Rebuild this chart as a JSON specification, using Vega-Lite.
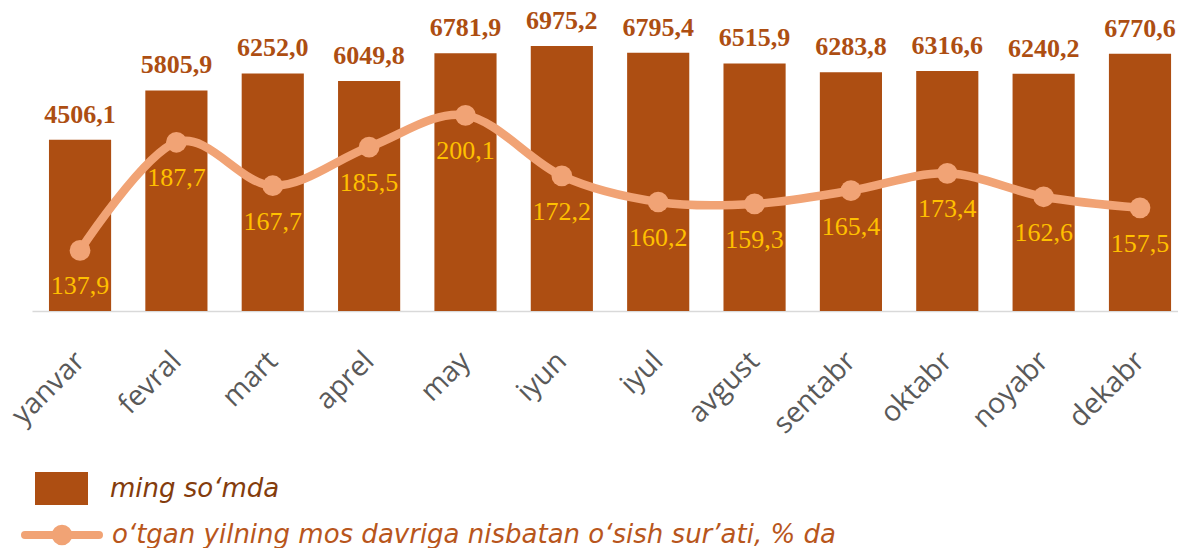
{
  "$schema": "https://vega.github.io/schema/vega-lite/v6.json",
  "autosize": {"type": "none"},
  "padding": {"left": 32, "top": 7, "right": 0, "bottom": 237},
  "width": 1146,
  "height": 304,
  "config": {
    "view": {"stroke": null},
    "locale": {"number": {"decimal": ",", "thousands": " ", "grouping": [3], "currency": ["", ""]}}
  },
  "data": {
    "values": [
      {"month": "yanvar", "value": 4506.1, "rate": 137.9},
      {"month": "fevral", "value": 5805.9, "rate": 187.7},
      {"month": "mart", "value": 6252.0, "rate": 167.7},
      {"month": "aprel", "value": 6049.8, "rate": 185.5},
      {"month": "may", "value": 6781.9, "rate": 200.1},
      {"month": "iyun", "value": 6975.2, "rate": 172.2},
      {"month": "iyul", "value": 6795.4, "rate": 160.2},
      {"month": "avgust", "value": 6515.9, "rate": 159.3},
      {"month": "sentabr", "value": 6283.8, "rate": 165.4},
      {"month": "oktabr", "value": 6316.6, "rate": 173.4},
      {"month": "noyabr", "value": 6240.2, "rate": 162.6},
      {"month": "dekabr", "value": 6770.6, "rate": 157.5}
    ]
  },
  "encoding": {
    "x": {
      "field": "month", "type": "nominal", "sort": null, "title": null,
      "scale": {"paddingInner": 0.355, "paddingOuter": 0.124, "align": 0.71},
      "axis": {
        "labelAngle": -45, "labelAlign": "right", "labelBaseline": "middle",
        "labelFont": "Open Sans", "labelFontSize": 28.5, "labelColor": "#595959",
        "labelPadding": 45, "ticks": false, "tickSize": 0,
        "domainColor": "#D9D9D9", "domainWidth": 1.5, "grid": false,
        "labelOverlap": false, "labelBound": false
      }
    }
  },
  "layer": [
    {
      "mark": {"type": "bar"},
      "encoding": {
        "y": {"field": "value", "type": "quantitative", "scale": {"domain": [0, 8000]}, "axis": null},
        "fill": {
          "datum": "ming so‘mda", "type": "nominal",
          "scale": {"range": ["#AD4E12"]},
          "legend": {
            "title": null, "orient": "none", "legendX": 3, "legendY": 455, "padding": 0,
            "symbolType": "M-1,-0.623L1,-0.623L1,0.623L-1,0.623Z",
            "symbolSize": 2809, "symbolStrokeWidth": 0,
            "labelFont": "DejaVu Sans", "labelFontStyle": "italic", "labelFontSize": 26,
            "labelColor": "#843C0C", "labelOffset": 22, "labelLimit": 1000
          }
        }
      }
    },
    {
      "mark": {"type": "text", "dy": -17, "baseline": "alphabetic", "font": "Liberation Serif", "fontWeight": "bold", "fontSize": 26, "color": "#AD4E12"},
      "encoding": {
        "y": {"field": "value", "type": "quantitative", "scale": {"domain": [0, 8000]}, "axis": null},
        "text": {"field": "value", "type": "quantitative", "format": ".1f"}
      }
    },
    {
      "mark": {"type": "line", "interpolate": "cardinal", "tension": 0, "strokeWidth": 8.5, "strokeCap": "round"},
      "encoding": {
        "y": {"field": "rate", "type": "quantitative", "scale": {"domain": [110, 250]}, "axis": null},
        "stroke": {
          "datum": "o‘tgan yilning mos davriga nisbatan o‘sish sur’ati, % da", "type": "nominal",
          "scale": {"range": ["#F1A375"]},
          "legend": {
            "title": null, "orient": "none", "legendX": -11, "legendY": 487, "padding": 0,
            "symbolType": "M-1,0L1,0M-0.17,0A0.17,0.17,0,1,1,0.17,0A0.17,0.17,0,1,1,-0.17,0Z",
            "symbolSize": 5476, "symbolStrokeWidth": 8, "symbolFillColor": "#F1A375",
            "labelFont": "DejaVu Sans", "labelFontStyle": "italic", "labelFontSize": 26,
            "labelColor": "#B8561C", "labelOffset": 9, "labelLimit": 1000,
            "encode": {"symbols": {"update": {"fill": {"value": "#F1A375"}, "strokeCap": {"value": "round"}}}}
          }
        }
      }
    },
    {
      "mark": {"type": "point", "shape": "circle", "filled": true, "size": 430, "opacity": 1, "color": "#F1A375"},
      "encoding": {
        "y": {"field": "rate", "type": "quantitative", "scale": {"domain": [110, 250]}, "axis": null}
      }
    },
    {
      "mark": {"type": "text", "dy": 44, "baseline": "alphabetic", "font": "Liberation Serif", "fontSize": 26, "color": "#FFC000"},
      "encoding": {
        "y": {"field": "rate", "type": "quantitative", "scale": {"domain": [110, 250]}, "axis": null},
        "text": {"field": "rate", "type": "quantitative", "format": ".1f"}
      }
    }
  ],
  "resolve": {"scale": {"y": "independent"}}
}
